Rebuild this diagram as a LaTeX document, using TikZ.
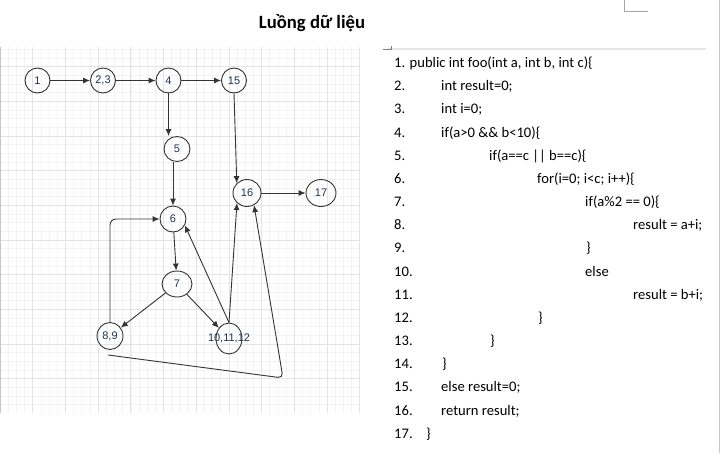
\documentclass[tikz,border=0pt]{standalone}
\usepackage{fontspec}
\setmainfont{Carlito}
\newfontfamily\arialfont{Liberation Sans}
\usetikzlibrary{arrows.meta,positioning,shapes.geometric}

\definecolor{gridmajor}{HTML}{E4E4E4}
\definecolor{gridminor}{HTML}{F3F3F3}
\definecolor{edgegray}{HTML}{333333}
\definecolor{labelblue}{HTML}{1F3550}
\definecolor{pagegray}{HTML}{C6C6C6}
\definecolor{barGray}{HTML}{E6E6E6}

\tikzset{
  vtx/.style={ellipse, draw=edgegray, line width=0.9pt, inner sep=0pt,
    minimum width=25pt, minimum height=25pt,
    font=\arialfont\fontsize{11}{13}\selectfont, text=labelblue},
  flow/.style={->, draw=edgegray, line width=0.9pt},
  codeline/.style={anchor=base west, inner sep=0pt, font=\fontsize{14.6}{17}\selectfont},
}

\begin{document}
\begin{tikzpicture}[x=1pt, y=-1pt, node distance=65.5pt, >={Latex[length=7pt,width=6pt]}]
  \useasboundingbox (0,0) rectangle (722,453);

  % grid of the drawing area
  \foreach \i in {0,...,44}
    \draw[gridminor, line width=0.6pt] (\i*8.175,46.7) -- (\i*8.175,412.7);
  \foreach \k in {-2,...,39}
    \draw[gridminor, line width=0.6pt] (0,66.7+\k*8.6625) -- (360,66.7+\k*8.6625);
  \foreach \i in {1,...,11}
    \draw[gridmajor, line width=0.8pt] (\i*32.7,46.7) -- (\i*32.7,412.7);
  \foreach \k in {0,...,9}
    \draw[gridmajor, line width=0.8pt] (0,66.7+\k*34.65) -- (360,66.7+\k*34.65);
  \draw[pagegray, line width=1pt] (0.5,46.7) -- (0.5,412.7);

  % page marks
  \fill[barGray] (387.7,47.5) rectangle (705.7,50.2);
  \draw[gray, line width=0.6pt] (382.7,49.3) -- (391.7,49.3) -- (391.7,46);
  \draw[gray!70, line width=0.8pt] (624.5,0) -- (624.5,11) -- (648,11);
  \draw[pagegray, line width=1.5pt] (719.5,0) -- (719.5,453);

  \node[font=\bfseries\fontsize{18.7}{22}\selectfont, anchor=base] (title) at (312,28) {Luồng dữ liệu};

  % flow graph
  \node[vtx] (n1) at (37.5,80.5) {1};
  \node[vtx, right of=n1] (n23) {2,3};
  \node[vtx, right of=n23] (n4) {4};
  \node[vtx, right of=n4] (n15) {15};
  \node[vtx, minimum width=26pt] (n5) at (177,149) {5};
  \node[vtx, minimum width=28pt, minimum height=27pt] (n16) at (247,193) {16};
  \node[vtx, minimum width=30pt, minimum height=27pt] (n17) at (321,193) {17};
  \node[vtx, minimum width=26pt, minimum height=26pt] (n6) at (173,219) {6};
  \node[vtx, minimum width=30pt, minimum height=26pt] (n7) at (177,284) {7};
  \node[vtx, minimum width=26pt, minimum height=27pt] (n89) at (110,336) {8,9};
  \node[vtx, minimum width=26pt, minimum height=31pt] (n101112) at (229,338.5) {\makebox[0pt]{10,11,12}};
  \coordinate (back) at (108,355);
  \coordinate (backturn) at (283,378);

  \draw[flow] (n1) -- (n23);
  \draw[flow] (n23) -- (n4);
  \draw[flow] (n4) -- (n15);
  \draw[flow] (n4) -- (n4 |- n5.north);
  \draw[flow] (n6 |- n5.south) -- (n6.north);
  \draw[flow] (n15.south) -- (n16.north west);
  \draw[flow] (n16) -- (n17);
  \draw[flow] (n6) -- (n7);
  \draw[flow] (n7) -- (n89);
  \draw[flow] (n7) -- (n101112);
  \draw[flow] (n101112.north) -- (n6.-28);
  \draw[flow] (n101112.north) -- (n16.-135);
  \draw[flow, rounded corners=6pt] (n89.north) |- (n6.west);
  \draw[flow, rounded corners=5pt] (back) -- (backturn) -- (n16.-60);

  % source code
  \node[codeline] (c1) at (394,67.5) {1. public int foo(int a, int b, int c)\{};
  \foreach \k in {2,...,17}
    \node[codeline] (num\k) at (394,{67.5+23.17*(\k-1)}) {\k.};
  \node[codeline] (c2) at (441,90.67) {int result=0;};
  \node[codeline] (c3) at (441,113.84) {int i=0;};
  \node[codeline] (c4) at (441,137.01) {if(a>0 \&\& b<10)\{};
  \node[codeline] (c5) at (489,160.18) {if(a==c || b==c)\{};
  \node[codeline] (c6) at (537,183.35) {for(i=0; i<c; i++)\{};
  \node[codeline] (c7) at (585,206.52) {if(a\%2 == 0)\{};
  \node[codeline] (c8) at (633,229.69) {result = a+i;};
  \node[codeline] (c9) at (586,252.86) {\}};
  \node[codeline] (c10) at (585,276.03) {else};
  \node[codeline] (c11) at (633,299.2) {result = b+i;};
  \node[codeline] (c12) at (538,322.37) {\}};
  \node[codeline] (c13) at (490,345.54) {\}};
  \node[codeline] (c14) at (442,368.71) {\}};
  \node[codeline] (c15) at (441,391.88) {else result=0;};
  \node[codeline] (c16) at (441,415.05) {return result;};
  \node[codeline] (c17) at (426,438.22) {\}};
\end{tikzpicture}
\end{document}
